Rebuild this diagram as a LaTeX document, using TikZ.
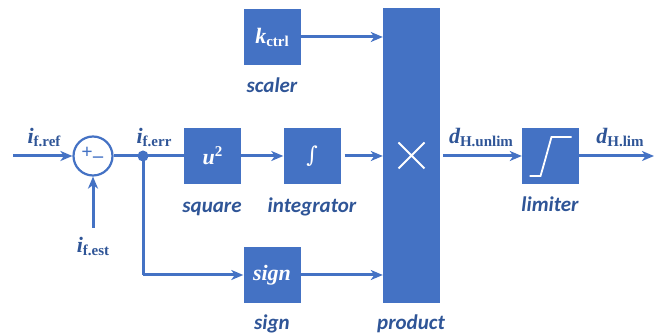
\documentclass[tikz,border=0pt]{standalone}
\usepackage{fontspec}
\setmainfont{Liberation Serif}
\newfontfamily\lblfont{Carlito}
\newfontfamily\symfont{DejaVu Serif}
\usetikzlibrary{arrows.meta}
\definecolor{blk}{HTML}{4472C4}
\definecolor{lbl}{HTML}{2F5597}
\tikzset{
  blockbox/.style={fill=blk,draw=none,minimum width=57pt,minimum height=56pt,inner sep=0pt,text=white},
  sig/.style={draw=blk,line width=3pt,-{Stealth[length=12pt,width=10pt,inset=3.5pt]}},
  wire/.style={draw=blk,line width=3pt},
  caption/.style={text=lbl,font=\lblfont\bfseries\itshape\fontsize{21}{23}\selectfont,inner sep=0pt,anchor=base},
  varlbl/.style={text=lbl,inner sep=0pt},
}
\newcommand{\mainv}[2]{{\fontsize{22}{24}\selectfont\bfseries\itshape #1}\raisebox{-3pt}{\fontsize{15}{17}\selectfont\bfseries #2}}
\begin{document}
\begin{tikzpicture}[x=1pt,y=-1pt]
\useasboundingbox (0,0) rectangle (654,336);
% blocks
\node[blockbox] (scaler) at (272,37) {\mainv{k}{ctrl}};
\node[blockbox] (square) at (212.5,156) {{\fontsize{22}{24}\selectfont\bfseries\itshape u}\raisebox{8pt}{\fontsize{15}{17}\selectfont\bfseries 2}};
\node[blockbox] (integ) at (312,156) {\symfont\fontsize{22}{24}\selectfont ∫};
\node[blockbox] (sgn) at (272,275) {\fontsize{22}{24}\selectfont\bfseries\itshape sign};
\node[fill=blk,draw=none,minimum width=57pt,minimum height=295pt,inner sep=0pt] (prod) at (411.5,155.5) {};
\node[blockbox] (lim) at (550.5,156) {};
% product cross
\draw[white,line width=1.8pt] ([shift={(-13,-13)}]prod.center) -- ([shift={(13,13)}]prod.center)
  ([shift={(-13,13)}]prod.center) -- ([shift={(13,-13)}]prod.center);
% limiter symbol
\draw[white,line width=1.8pt] ([shift={(-21,20)}]lim.center) -- ([shift={(-10,20)}]lim.center)
  .. controls ([shift={(-7,10)}]lim.center) and ([shift={(-1,-12)}]lim.center) .. ([shift={(1,-19)}]lim.center)
  -- ([shift={(21,-19)}]lim.center);
% sum junction
\node[draw=blk,line width=2.2pt,circle,minimum size=39pt,inner sep=0pt] (sum) at (93,156) {};
\node[text=blk,font=\bfseries\fontsize{20}{20}\selectfont,inner sep=0pt] at ([shift={(-6,-3)}]sum.center) {+};
\node[text=blk,font=\bfseries\fontsize{20}{20}\selectfont,inner sep=0pt] at ([shift={(5,1)}]sum.center) {\_};
\node[circle,fill=blk,minimum size=11pt,inner sep=0pt] (dot) at (143,156) {};
% free ends
\coordinate (inref) at (13,156);
\coordinate (inest) at (93,228);
\coordinate (corner) at (143,275);
\coordinate (out) at (654,156);
% connectors
\draw[sig] (inref) -- (sum.west);
\draw[sig] (inest) -- (sum.south);
\draw[wire] (sum.east) -- (dot.center) -- (square.west);
\draw[sig] (square.east) -- (integ.west);
\draw[sig] ([xshift=4pt]integ.east) -- (prod.west |- integ.east);
\draw[sig] (scaler.east) -- (prod.west |- scaler.east);
\draw[wire] (dot.center) -- (corner);
\draw[sig] (corner) -- (sgn.west);
\draw[sig] (sgn.east) -- (prod.west |- sgn.east);
\draw[sig] ([xshift=3pt]prod.east |- lim.west) -- (lim.west);
\draw[sig] (lim.east) -- (out);
% variable labels
\node[varlbl] (lref) at (44,137) {\mainv{i}{f.ref}};
\node[varlbl] (lerr) at (154,137) {\mainv{i}{f.err}};
\node[varlbl] (lest) at (93,246) {\mainv{i}{f.est}};
\node[varlbl] (lunl) at (481,137) {\mainv{d}{H.unlim}};
\node[varlbl] (llim) at (620,137) {\mainv{d}{H.lim}};
% captions
\node[caption] (cscaler) at (272,93) {scaler};
\node[caption] (csquare) at (212,213) {square};
\node[caption] (cinteg) at (312,213) {integrator};
\node[caption] (csign) at (272,330) {sign};
\node[caption] (cprod) at (411,330) {product};
\node[caption] (clim) at (550,212) {limiter};
\end{tikzpicture}
\end{document}
